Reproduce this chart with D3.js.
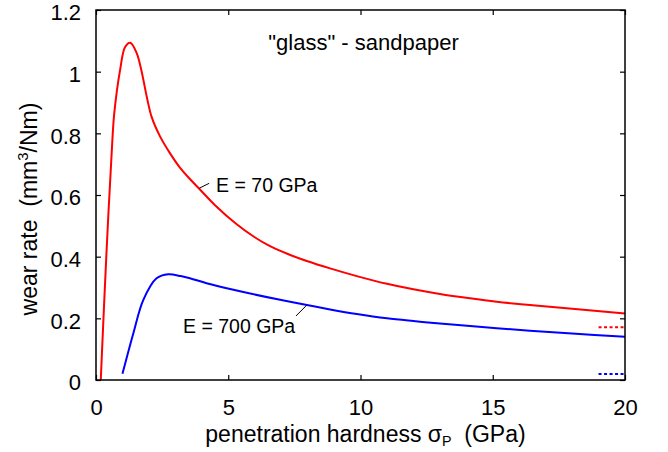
<!DOCTYPE html>
<html>
<head>
<meta charset="utf-8">
<script src="https://cdn.jsdelivr.net/npm/d3@7"></script>
<style>
  html, body { margin: 0; padding: 0; background: #fff; }
  svg { display: block; font-family: "Liberation Sans", Arial, Helvetica, sans-serif; }
  text { white-space: pre; fill: #000; }
</style>
</head>
<body>
<svg id="chart" width="668" height="452"></svg>
<script>
// Wear rate vs penetration hardness, "glass" on sandpaper, two elastic moduli
const hardnessE70 = [0.18, 0.40, 0.62, 0.69, 0.91, 1.10, 1.29, 1.54, 2.10, 2.42, 2.80, 3.18, 3.55, 3.93, 4.50, 5.32, 6.00, 6.58, 7.30, 7.97, 8.85, 9.86, 11.0, 12.0, 13.0, 14.14, 15.15, 16.4, 18.0, 20.0];
const wearE70     = [0.0, 0.42, 0.78, 0.865, 1.005, 1.08, 1.094, 1.06, 0.854, 0.79, 0.735, 0.688, 0.652, 0.618, 0.567, 0.505, 0.463, 0.434, 0.407, 0.386, 0.362, 0.337, 0.312, 0.294, 0.279, 0.265, 0.254, 0.243, 0.231, 0.216];

const hardnessE700 = [1.0, 1.41, 1.79, 2.29, 2.73, 3.2, 3.55, 4.18, 5.07, 6.96, 8.85, 9.86, 11.0, 12.0, 13.0, 14.14, 15.15, 16.4, 18.0, 20.0];
const wearE700     = [0.02, 0.151, 0.26, 0.33, 0.343, 0.337, 0.33, 0.314, 0.295, 0.26, 0.229, 0.214, 0.2, 0.191, 0.183, 0.175, 0.168, 0.16, 0.151, 0.14];

// short dotted reference levels at the right edge
const refLevels = [0.171, 0.0195];
const refRange = [19.0, 19.95];

const xTicks = [0, 5, 10, 15, 20];
const yTicks = [0, 0.2, 0.4, 0.6, 0.8, 1, 1.2];

const seriesNames = ["E = 70 GPa", "E = 700 GPa"];
const seriesColors = ["#ff0000", "#0000ff"];

const svg = d3.select("#chart");
const W = 668, H = 452;
const margin = { top: 10, right: 43, bottom: 72, left: 96 };
const iw = W - margin.left - margin.right;
const ih = H - margin.top - margin.bottom;

const x = d3.scaleLinear().domain([0, 20]).range([0, iw]);
const y = d3.scaleLinear().domain([0, 1.2]).range([ih, 0]);

const g = svg.append("g").attr("transform", `translate(${margin.left},${margin.top})`);

const fs = 22;
const axisFs = 23;
const tickLen = 5;

// bottom axis with labels, ticks pointing inward; mirrored ticks on top/right
const ax = g.append("g").attr("transform", `translate(0,${ih})`)
  .call(d3.axisBottom(x).tickValues(xTicks).tickFormat(d3.format("d")).tickSizeInner(-tickLen).tickSizeOuter(0).tickPadding(19));
const axTop = g.append("g")
  .call(d3.axisTop(x).tickValues(xTicks).tickFormat("").tickSizeInner(-tickLen).tickSizeOuter(0));
const ay = g.append("g")
  .call(d3.axisLeft(y).tickValues(yTicks).tickFormat(d => d3.format("")(+d.toFixed(1))).tickSizeInner(-tickLen).tickSizeOuter(0).tickPadding(15));
const ayRight = g.append("g").attr("transform", `translate(${iw},0)`)
  .call(d3.axisRight(y).tickValues(yTicks).tickFormat("").tickSizeInner(-tickLen).tickSizeOuter(0));

[ax, axTop, ay, ayRight].forEach(a => {
  a.select(".domain").remove();
  a.selectAll(".tick line").attr("stroke", "#000").attr("stroke-width", 1.2);
  a.selectAll(".tick text").attr("font-size", fs).attr("font-family", null).attr("fill", "#000");
});
ay.selectAll(".tick text").attr("dy", "0.45em");

// curves
const line = d3.line().x(d => x(d[0])).y(d => y(d[1])).curve(d3.curveCatmullRom.alpha(0.5));
const series = [
  d3.zip(hardnessE70, wearE70),
  d3.zip(hardnessE700, wearE700)
];
series.forEach((pts, i) => {
  g.append("path").datum(pts)
    .attr("fill", "none")
    .attr("stroke", seriesColors[i])
    .attr("stroke-width", 2)
    .attr("stroke-linejoin", "round")
    .attr("d", line);
});

// dotted reference levels
refLevels.forEach((lv, i) => {
  g.append("line")
    .attr("x1", x(refRange[0])).attr("x2", x(refRange[1]))
    .attr("y1", y(lv)).attr("y2", y(lv))
    .attr("stroke", seriesColors[i])
    .attr("stroke-width", 2)
    .attr("stroke-dasharray", "3,2.5");
});

// frame
g.append("rect").attr("x", 0).attr("y", 0).attr("width", iw).attr("height", ih)
  .attr("fill", "none").attr("stroke", "#000").attr("stroke-width", 1.5);

// curve labels with leader lines
const labelFs = 19.5;
const leaders = [
  { from: [3.905, 0.622], to: [4.28, 0.638], text: [4.54, 0.611] },
  { from: [7.97, 0.243], to: [7.56, 0.2076], text: [3.29, 0.153] }
];
leaders.forEach((l, i) => {
  g.append("line")
    .attr("x1", x(l.from[0])).attr("y1", y(l.from[1]))
    .attr("x2", x(l.to[0])).attr("y2", y(l.to[1]))
    .attr("stroke", "#000").attr("stroke-width", 1);
  g.append("text")
    .attr("x", x(l.text[0])).attr("y", y(l.text[1]))
    .attr("font-size", labelFs)
    .text(seriesNames[i]);
});

// title inside the frame
g.append("text")
  .attr("x", iw / 2 + 3).attr("y", 40)
  .attr("text-anchor", "middle")
  .attr("font-size", fs)
  .text("\"glass\" - sandpaper");

// x-axis title with subscript
const xt = svg.append("text")
  .attr("x", margin.left + iw / 2 + 5).attr("y", 442)
  .attr("text-anchor", "middle")
  .attr("font-size", axisFs);
xt.append("tspan").text("penetration hardness σ");
xt.append("tspan").attr("font-size", axisFs * 0.62).attr("dy", 4).text("P");
xt.append("tspan").attr("dy", -4).text("  (GPa)");

// y-axis title with superscript
const yt = svg.append("text")
  .attr("transform", `translate(37,${margin.top + ih / 2 + 14}) rotate(-90)`)
  .attr("text-anchor", "middle")
  .attr("font-size", axisFs);
yt.append("tspan").text("wear rate  (mm");
yt.append("tspan").attr("font-size", axisFs * 0.65).attr("dy", -9).text("3");
yt.append("tspan").attr("dy", 9).text("/Nm)");
</script>
</body>
</html>
